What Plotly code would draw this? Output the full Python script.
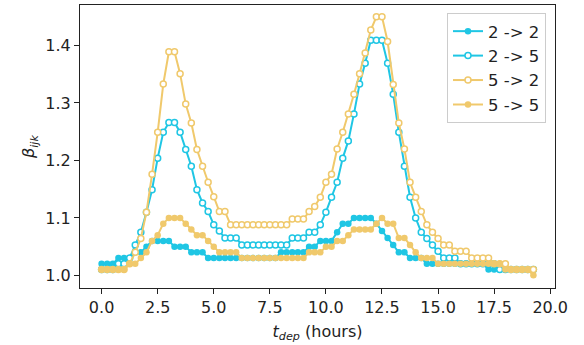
import plotly.graph_objects as go

hours = [0.0, 0.25, 0.5, 0.75, 1.0, 1.25, 1.5, 1.75, 2.0, 2.25, 2.5, 2.75, 3.0, 3.25, 3.5, 3.75,
         4.0, 4.25, 4.5, 4.75, 5.0, 5.25, 5.5, 5.75, 6.0, 6.25, 6.5, 6.75, 7.0, 7.25, 7.5, 7.75,
         8.0, 8.25, 8.5, 8.75, 9.0, 9.25, 9.5, 9.75, 10.0, 10.25, 10.5, 10.75, 11.0, 11.25, 11.5, 11.75,
         12.0, 12.25, 12.5, 12.75, 13.0, 13.25, 13.5, 13.75, 14.0, 14.25, 14.5, 14.75, 15.0, 15.25, 15.5, 15.75,
         16.0, 16.25, 16.5, 16.75, 17.0, 17.25, 17.5, 17.75, 18.0, 18.25, 18.5, 18.75, 19.0, 19.25]

s22 = [1.02, 1.02, 1.02, 1.03, 1.03, 1.03, 1.04, 1.04, 1.05, 1.06, 1.06, 1.06, 1.06, 1.05, 1.05, 1.05,
       1.04, 1.04, 1.04, 1.03, 1.03, 1.03, 1.03, 1.03, 1.03, 1.03, 1.03, 1.03, 1.03, 1.03, 1.03, 1.03,
       1.04, 1.04, 1.04, 1.04, 1.04, 1.05, 1.05, 1.06, 1.06, 1.06, 1.075, 1.09, 1.09, 1.10, 1.10, 1.10,
       1.10, 1.09, 1.077, 1.065, 1.053, 1.04, 1.04, 1.03, 1.03, 1.03, 1.02, 1.02, 1.02, 1.02, 1.02, 1.02,
       1.02, 1.02, 1.02, 1.02, 1.02, 1.01, 1.01, 1.01, 1.01, 1.01, 1.01, 1.01, 1.01, 1.01]

s25 = [1.01, 1.01, 1.01, 1.02, 1.02, 1.03, 1.053, 1.075, 1.11, 1.149, 1.204, 1.249, 1.266, 1.266, 1.249, 1.219,
       1.19, 1.149, 1.126, 1.111, 1.088, 1.077, 1.065, 1.065, 1.065, 1.053, 1.053, 1.053, 1.053, 1.053, 1.053, 1.053,
       1.053, 1.053, 1.065, 1.065, 1.065, 1.075, 1.075, 1.088, 1.11, 1.136, 1.162, 1.204, 1.234, 1.281, 1.333, 1.369,
       1.409, 1.409, 1.409, 1.369, 1.315, 1.249, 1.19, 1.136, 1.10, 1.075, 1.064, 1.053, 1.042, 1.03, 1.03, 1.03,
       1.02, 1.02, 1.02, 1.02, 1.02, 1.02, 1.02, 1.01, 1.01, 1.01, 1.01, 1.01, 1.01, 1.01]

s52 = [1.01, 1.01, 1.01, 1.01, 1.01, 1.02, 1.04, 1.064, 1.11, 1.176, 1.249, 1.333, 1.389, 1.389, 1.351, 1.298,
       1.265, 1.219, 1.19, 1.162, 1.137, 1.111, 1.111, 1.088, 1.088, 1.088, 1.088, 1.088, 1.088, 1.088, 1.088, 1.088,
       1.088, 1.088, 1.098, 1.098, 1.098, 1.111, 1.12, 1.136, 1.162, 1.176, 1.22, 1.249, 1.281, 1.315, 1.351, 1.387,
       1.427, 1.45, 1.45, 1.407, 1.332, 1.265, 1.22, 1.162, 1.136, 1.111, 1.088, 1.075, 1.064, 1.053, 1.053, 1.042,
       1.042, 1.042, 1.03, 1.03, 1.03, 1.03, 1.02, 1.02, 1.02, 1.01, 1.01, 1.01, 1.01, 1.01]

s55 = [1.01, 1.01, 1.01, 1.01, 1.01, 1.02, 1.02, 1.03, 1.04, 1.06, 1.07, 1.09, 1.10, 1.10, 1.10, 1.09,
       1.08, 1.07, 1.07, 1.06, 1.05, 1.04, 1.04, 1.04, 1.04, 1.03, 1.03, 1.03, 1.03, 1.03, 1.03, 1.03,
       1.03, 1.03, 1.03, 1.03, 1.03, 1.04, 1.04, 1.04, 1.05, 1.05, 1.06, 1.06, 1.07, 1.08, 1.08, 1.08,
       1.08, 1.09, 1.10, 1.09, 1.09, 1.065, 1.065, 1.053, 1.04, 1.03, 1.03, 1.03, 1.02, 1.02, 1.02, 1.02,
       1.02, 1.02, 1.02, 1.02, 1.02, 1.02, 1.02, 1.02, 1.01, 1.01, 1.01, 1.01, 1.01, 1.00]

names = ["2 -> 2", "2 -> 5", "5 -> 2", "5 -> 5"]
x_ticks = [0.0, 2.5, 5.0, 7.5, 10.0, 12.5, 15.0, 17.5, 20.0]
y_ticks = [1.0, 1.1, 1.2, 1.3, 1.4]

CYAN = "#1fc6e4"
GOLD = "#f0c96c"

series = [
    (s22, names[0], CYAN, True),
    (s25, names[1], CYAN, False),
    (s52, names[2], GOLD, False),
    (s55, names[3], GOLD, True),
]

fig = go.Figure()
for vals, name, col, filled in series:
    if filled:
        marker = dict(symbol="circle", size=6.5, color=col, line=dict(width=0))
    else:
        marker = dict(symbol="circle", size=6, color="white", line=dict(width=1.5, color=col))
    fig.add_trace(go.Scatter(x=hours, y=vals, name=name, mode="lines+markers",
                             line=dict(color=col, width=2), marker=marker))

font = "DejaVu Sans"
fig.update_layout(
    width=584, height=345,
    margin=dict(l=80, r=29, t=5, b=57),
    paper_bgcolor="white", plot_bgcolor="white",
    font=dict(family=font, size=16, color="#222"),
    showlegend=True,
    legend=dict(x=0.981, y=0.972, xanchor="right", yanchor="top",
                bgcolor="rgba(255,255,255,0.8)", bordercolor="#cccccc", borderwidth=1,
                font=dict(size=16.5, family=font), tracegroupgap=0,
                entrywidth=68, entrywidthmode="pixels"),
    xaxis=dict(range=[-0.9625, 20.2125], tickvals=x_ticks, ticktext=[f"{v:.1f}" for v in x_ticks],
               showgrid=False, zeroline=False, showline=True, linecolor="#222", linewidth=1.2,
               mirror=True, ticks="outside", ticklen=5, tickwidth=1.2, tickcolor="#222",
               title=dict(text="<i>t</i><sub><i>dep</i></sub> (hours)", standoff=9,
                          font=dict(size=16, family=font))),
    yaxis=dict(range=[0.978, 1.4705], tickvals=y_ticks, ticktext=[f"{v:.1f}" for v in y_ticks],
               showgrid=False, zeroline=False, showline=True, linecolor="#222", linewidth=1.2,
               mirror=True, ticks="outside", ticklen=5, tickwidth=1.2, tickcolor="#222",
               title=dict(text="<i>β</i><sub><i>ijk</i></sub>", standoff=6,
                          font=dict(size=16, family=font))),
)

fig.write_html("out.html")
